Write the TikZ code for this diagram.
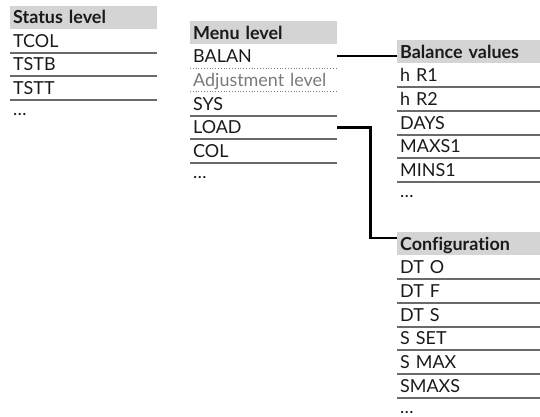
\documentclass[tikz,border=0pt]{standalone}
\usepackage{fontspec}
\setmainfont{Lato}[Ligatures=NoCommon]
\usetikzlibrary{calc}
\definecolor{hdrfill}{HTML}{D4D4D4}
\definecolor{rule}{HTML}{6A6A6A}
\definecolor{ink}{HTML}{1A1A1A}
\definecolor{soft}{HTML}{7A7A7A}
\begin{document}
\begin{tikzpicture}[x=1bp,y=-1bp,
  cell/.style={anchor=north west, inner xsep=3bp, inner ysep=0pt,
    minimum height=23.3bp, text height=13bp, text depth=0bp,
    align=left, font=\fontsize{18}{18}\selectfont, text=ink},
  hdr/.style={cell, fill=hdrfill, minimum height=23bp, font=\fontsize{18}{18}\selectfont\bfseries},
  tail/.style={cell, minimum height=18bp},
  wideA/.style={text width=141bp},
  wideB/.style={text width=137bp},
  sep/.style={draw=rule, line width=2bp},
  dotsep/.style={draw=soft, line width=0.8bp, dash pattern=on 0.8bp off 2bp},
  link/.style={draw=black, line width=2.4bp}]
\useasboundingbox (0,0) rectangle (540,416);

% Status level column
\node[hdr,wideA] (sh) at (10,5.5) {Status level};
\node[cell,wideA] (s1) at (sh.south west) {TCOL};
\node[cell,wideA] (s2) at (s1.south west) {TSTB};
\node[cell,wideA] (s3) at (s2.south west) {TSTT};
\node[tail,wideA] (s4) at (s3.south west) {\dots};

% Menu level column
\node[hdr,wideA] (mh) at (190,21) {Menu level};
\node[cell,wideA] (m1) at (mh.south west) {BALAN};
\node[cell,wideA,text=soft] (m2) at (m1.south west) {Adjustment level};
\node[cell,wideA] (m3) at (m2.south west) {SYS};
\node[cell,wideA] (m4) at (m3.south west) {LOAD};
\node[cell,wideA] (m5) at (m4.south west) {COL};
\node[tail,wideA] (m6) at (m5.south west) {\dots};

% Balance values column
\node[hdr,wideB] (bh) at (397,40) {Balance values};
\node[cell,wideB] (b1) at (bh.south west) {h R1};
\node[cell,wideB] (b2) at (b1.south west) {h R2};
\node[cell,wideB] (b3) at (b2.south west) {DAYS};
\node[cell,wideB] (b4) at (b3.south west) {MAXS1};
\node[cell,wideB] (b5) at (b4.south west) {MINS1};
\node[tail,wideB] (b6) at (b5.south west) {\dots};

% Configuration column
\node[hdr,wideB] (ch) at (397,232) {Configuration};
\node[cell,wideB] (c1) at (ch.south west) {DT O};
\node[cell,wideB] (c2) at (c1.south west) {DT F};
\node[cell,wideB] (c3) at (c2.south west) {DT S};
\node[cell,wideB] (c4) at (c3.south west) {S SET};
\node[cell,wideB] (c5) at (c4.south west) {S MAX};
\node[cell,wideB] (c6) at (c5.south west) {SMAXS};
\node[tail,wideB] (c7) at (c6.south west) {\dots};

% row separators
\foreach \n in {s1,s2,s3,m3,m4,m5,b1,b2,b3,b4,b5,c1,c2,c3,c4,c5,c6}
  \draw[sep] (\n.south west) -- (\n.south east);
\foreach \n in {m1,m2}
  \draw[dotsep] (\n.south west) -- (\n.south east);

% links between levels
\draw[link] (m1.east) -- (m1.east -| bh.west);
\coordinate (cin) at ($(ch.north west)+(0,6)$);
\draw[link] (m4.east) -- ++(33,0) |- (cin);
\end{tikzpicture}
\end{document}
